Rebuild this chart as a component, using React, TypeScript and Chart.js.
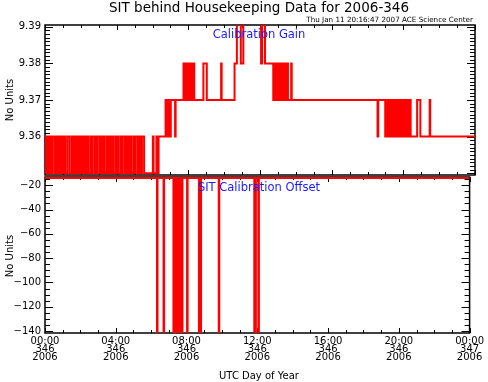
import React, { useEffect, useRef } from 'react';
import { Chart, registerables } from 'chart.js';
Chart.register(...registerables);

// ---------- texts ----------
const TITLE = 'SIT behind Housekeeping Data for 2006-346';
const STAMP = 'Thu Jan 11 20:16:47 2007 ACE Science Center';
const GAIN_LABEL = 'Calibration Gain';
const OFFSET_LABEL = 'SIT Calibration Offset';
const Y_TITLE = 'No Units';
const X_TITLE = 'UTC Day of Year';

// ---------- tick labels ----------
const xTickHours = [0, 4, 8, 12, 16, 20, 24];
const xTickTimes = ['00:00', '04:00', '08:00', '12:00', '16:00', '20:00', '00:00'];
const xTickDays = ['346', '346', '346', '346', '346', '346', '347'];
const xTickYears = ['2006', '2006', '2006', '2006', '2006', '2006', '2006'];

const gainTicks = [9.36, 9.37, 9.38, 9.39];
const gainTickLabels = ['9.36', '9.37', '9.38', '9.39'];
const offsetTicks = [-20, -40, -60, -80, -100, -120, -140];
const offsetTickLabels = ['\u221220', '\u221240', '\u221260', '\u221280', '\u2212100', '\u2212120', '\u2212140'];

// ---------- data: calibration gain, [hour of day, value held from that hour] ----------
const gainSteps: [number, number][] = [
  [0.00, 9.36], [0.05, 9.35], [0.10, 9.36], [0.15, 9.35], [0.20, 9.36], [0.25, 9.35], [0.30, 9.36], [0.35, 9.35], [0.40, 9.36],
  [0.52, 9.35], [0.57, 9.36], [0.62, 9.35], [0.67, 9.36], [0.72, 9.35], [0.77, 9.36], [0.82, 9.35], [0.87, 9.36], [0.92, 9.35],
  [0.97, 9.36], [1.02, 9.35], [1.07, 9.36], [1.12, 9.35], [1.24, 9.36], [1.36, 9.35],
  [1.48, 9.36], [1.53, 9.35], [1.58, 9.36], [1.63, 9.35], [1.68, 9.36], [1.73, 9.35], [1.78, 9.36], [1.83, 9.35], [1.88, 9.36],
  [1.93, 9.35], [1.98, 9.36], [2.03, 9.35], [2.08, 9.36], [2.13, 9.35], [2.18, 9.36], [2.23, 9.35], [2.28, 9.36], [2.33, 9.35],
  [2.38, 9.36], [2.43, 9.35], [2.55, 9.36], [2.60, 9.35], [2.65, 9.36], [2.77, 9.35], [2.82, 9.36], [2.87, 9.35], [2.92, 9.36],
  [3.04, 9.35], [3.09, 9.36], [3.14, 9.35], [3.19, 9.36], [3.24, 9.35], [3.29, 9.36], [3.34, 9.35],
  [3.46, 9.36], [3.51, 9.35], [3.56, 9.36], [3.61, 9.35], [3.66, 9.36], [3.71, 9.35], [3.76, 9.36], [3.81, 9.35],
  [3.93, 9.36], [3.98, 9.35], [4.03, 9.36], [4.08, 9.35], [4.20, 9.36], [4.25, 9.35], [4.30, 9.36],
  [4.42, 9.35], [4.47, 9.36], [4.52, 9.35], [4.57, 9.36], [4.62, 9.35], [4.67, 9.36], [4.72, 9.35], [4.77, 9.36], [4.82, 9.35],
  [4.94, 9.36], [4.99, 9.35], [5.04, 9.36], [5.16, 9.35], [5.21, 9.36], [5.26, 9.35], [5.31, 9.36], [5.36, 9.35], [5.41, 9.36],
  [5.53, 9.35],
  [6.02, 9.36], [6.06, 9.35], [6.22, 9.36], [6.28, 9.35], [6.34, 9.36],
  [6.73, 9.37], [6.78, 9.36], [6.83, 9.37], [6.88, 9.36], [6.93, 9.37], [6.98, 9.36], [7.02, 9.37], [7.26, 9.36], [7.29, 9.37],
  [7.73, 9.38], [7.78, 9.37], [7.83, 9.38], [7.92, 9.37], [7.97, 9.38], [8.02, 9.37], [8.07, 9.38], [8.15, 9.37], [8.20, 9.38],
  [8.25, 9.37], [8.30, 9.38], [8.33, 9.37], [8.84, 9.38], [9.03, 9.37], [9.83, 9.38], [9.86, 9.37],
  [10.58, 9.38], [10.71, 9.40], [10.93, 9.38], [11.07, 9.40], [12.06, 9.38], [12.12, 9.40], [12.28, 9.38],
  [12.74, 9.37], [12.79, 9.38], [12.84, 9.37], [12.89, 9.38], [12.94, 9.37], [12.99, 9.38], [13.07, 9.37], [13.12, 9.38],
  [13.17, 9.37], [13.22, 9.38], [13.30, 9.37], [13.35, 9.38], [13.40, 9.37], [13.45, 9.38], [13.50, 9.37], [13.54, 9.38],
  [13.56, 9.37], [13.74, 9.38], [13.77, 9.37], [18.56, 9.36], [18.60, 9.37],
  [18.99, 9.36], [19.04, 9.37], [19.09, 9.36], [19.14, 9.37], [19.19, 9.36], [19.24, 9.37], [19.29, 9.36], [19.34, 9.37],
  [19.39, 9.36], [19.44, 9.37], [19.49, 9.36], [19.54, 9.37], [19.59, 9.36], [19.64, 9.37], [19.69, 9.36], [19.78, 9.37],
  [19.83, 9.36], [19.88, 9.37], [19.93, 9.36], [19.98, 9.37], [20.03, 9.36], [20.08, 9.37], [20.13, 9.36], [20.18, 9.37],
  [20.23, 9.36], [20.28, 9.37], [20.33, 9.36], [20.37, 9.37], [20.41, 9.36],
  [20.77, 9.37], [20.95, 9.36], [21.47, 9.37], [21.50, 9.36], [24.00, 9.36],
];

// ---------- data: calibration offset, [hour of day, value held from that hour] ----------
const offsetSteps: [number, number][] = [
  [0.00, -14], [6.33, -160], [6.36, -14], [6.70, -160], [6.73, -14],
  [7.26, -160], [7.31, -14], [7.36, -160], [7.41, -14], [7.46, -160], [7.50, -14], [7.55, -160], [7.60, -14],
  [7.65, -160], [7.70, -14], [7.74, -160], [7.77, -14],
  [8.03, -160], [8.06, -14], [8.70, -160], [8.74, -14], [8.78, -160], [8.82, -14], [9.82, -160], [9.85, -14],
  [11.83, -160], [11.86, -14], [11.89, -160], [11.92, -14], [12.06, -160], [12.09, -14], [24.00, -14],
];

// ---------- styling ----------
const FONT = "'DejaVu Sans', 'Liberation Sans', sans-serif";
const RED = '#ff0000';
const BLUE = '#1a1aff';

function txt(ctx: CanvasRenderingContext2D, s: string, x: number, y: number, size: number,
  color = '#000', align: CanvasTextAlign = 'center', rot = 0) {
  ctx.save();
  ctx.font = `${size}px ${FONT}`;
  ctx.fillStyle = color;
  ctx.textAlign = align;
  ctx.textBaseline = 'middle';
  ctx.translate(x, y);
  if (rot) ctx.rotate(rot);
  ctx.fillText(s, 0, 0);
  ctx.restore();
}

type FrameOpts = { yMin: number; yMax: number; yMinor: number; yMajorEvery: number };

function framePlugin(fo: FrameOpts) {
  return {
    id: 'idlFrame',
    beforeDatasetsDraw(chart: any) {
      const { ctx, chartArea: a, scales } = chart;
      const xs = scales.x, ys = scales.y;
      ctx.save();
      ctx.strokeStyle = '#000';
      ctx.lineWidth = 1;
      ctx.beginPath();
      for (let h = 0; h <= 24; h++) {
        const px = Math.round(xs.getPixelForValue(h)) + 0.5;
        const len = h % 4 === 0 ? 5 : 3;
        ctx.moveTo(px, a.bottom); ctx.lineTo(px, a.bottom - len);
        ctx.moveTo(px, a.top); ctx.lineTo(px, a.top + len);
      }
      const n = Math.round((fo.yMax - fo.yMin) / fo.yMinor);
      for (let i = 0; i <= n; i++) {
        const v = fo.yMin + i * fo.yMinor;
        const py = Math.round(ys.getPixelForValue(v)) + 0.5;
        if (py < a.top - 0.5 || py > a.bottom + 0.5) continue;
        const len = i % fo.yMajorEvery === 0 ? 8 : 5;
        ctx.moveTo(a.left, py); ctx.lineTo(a.left + len, py);
        ctx.moveTo(a.right, py); ctx.lineTo(a.right - len, py);
      }
      ctx.stroke();
      ctx.lineWidth = 1.5;
      ctx.strokeRect(a.left, a.top, a.right - a.left, a.bottom - a.top);
      ctx.restore();
    },
  };
}

function makeChart(canvas: HTMLCanvasElement, which: 'gain' | 'offset') {
  const isGain = which === 'gain';
  const steps = isGain ? gainSteps : offsetSteps;
  const data = steps.map(([h, v]) => ({ x: h, y: v }));
  const yTicks = isGain ? gainTicks : offsetTicks;
  const yLabels = isGain ? gainTickLabels : offsetTickLabels;

  const textPlugin = {
    id: 'texts',
    afterDatasetsDraw(chart: any) {
      const ctx = chart.ctx;
      if (isGain) {
        txt(ctx, TITLE, 259, 8.5, 13.5);
        txt(ctx, STAMP, 473, 20.5, 7.2, '#000', 'right');
        txt(ctx, GAIN_LABEL, 259, 35.5, 11.5, BLUE);
        txt(ctx, Y_TITLE, 10, 100, 10, '#000', 'center', -Math.PI / 2);
      } else {
        txt(ctx, OFFSET_LABEL, 259, 188, 11.5, BLUE);
        txt(ctx, Y_TITLE, 10, 256, 10, '#000', 'center', -Math.PI / 2);
        txt(ctx, X_TITLE, 259, 376, 10);
      }
    },
  };

  const frame = isGain
    ? framePlugin({ yMin: 9.35, yMax: 9.39, yMinor: 0.001, yMajorEvery: 10 })
    : framePlugin({ yMin: -140, yMax: -15, yMinor: 5, yMajorEvery: 4 });

  return new Chart(canvas, {
    type: 'line',
    data: {
      datasets: [{
        data,
        borderColor: RED,
        borderWidth: 2,
        pointRadius: 0,
        stepped: 'before',
        fill: false,
      }],
    },
    plugins: [frame, textPlugin],
    options: {
      animation: false,
      responsive: false,
      devicePixelRatio: 1,
      layout: { padding: isGain ? { left: 0, top: 25, right: 13, bottom: 207 } : { left: 0, top: 177, right: 13, bottom: 0 } },
      plugins: { legend: { display: false }, tooltip: { enabled: false }, title: { display: false } },
      scales: {
        x: {
          type: 'linear',
          min: 0,
          max: 24,
          display: !isGain,
          afterBuildTicks: (s: any) => { s.ticks = xTickHours.map((v) => ({ value: v })); },
          afterFit: (s: any) => { s.height = isGain ? 0 : 49; },
          grid: { display: false, drawTicks: false, tickLength: 0 },
          border: { display: false },
          ticks: {
            autoSkip: false,
            maxRotation: 0,
            padding: 4,
            color: '#000',
            font: { family: FONT, size: 10, lineHeight: 0.83 },
            callback: (v: any) => {
              const i = xTickHours.indexOf(Number(v));
              return [xTickTimes[i], xTickDays[i], xTickYears[i]];
            },
          },
        },
        y: {
          type: 'linear',
          min: isGain ? 9.3495 : -141.6,
          max: isGain ? 9.3905 : -13.2,
          afterBuildTicks: (s: any) => { s.ticks = yTicks.map((v) => ({ value: v })); },
          afterFit: (s: any) => { s.width = 45; },
          grid: { display: false, drawTicks: false, tickLength: 0 },
          border: { display: false },
          ticks: {
            padding: 4,
            color: '#000',
            font: { family: FONT, size: 10 },
            callback: (v: any) => {
              const i = yTicks.findIndex((t) => Math.abs(t - Number(v)) < 1e-9);
              return i >= 0 ? yLabels[i] : '';
            },
          },
        },
      },
    },
  } as any);
}

export default function App() {
  const c1 = useRef<HTMLCanvasElement>(null);
  const c2 = useRef<HTMLCanvasElement>(null);
  useEffect(() => {
    const a = makeChart(c2.current!, 'offset');
    const b = makeChart(c1.current!, 'gain');
    return () => { a.destroy(); b.destroy(); };
  }, []);
  const cs: React.CSSProperties = { position: 'absolute', left: 0, top: 0, width: 488, height: 382 };
  return (
    <div style={{ position: 'fixed', left: 0, top: 0, width: 488, height: 382, background: '#fff' }}>
      <canvas ref={c2} width={488} height={382} style={cs} />
      <canvas ref={c1} width={488} height={382} style={cs} />
    </div>
  );
}
